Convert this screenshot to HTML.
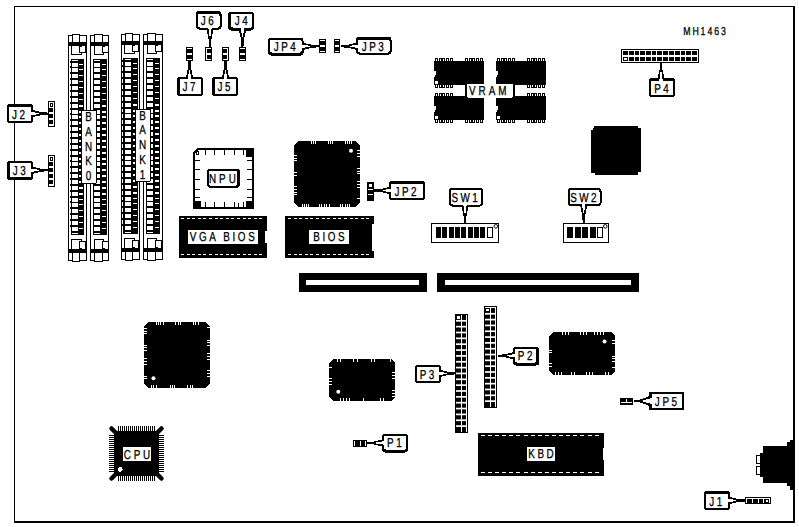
<!DOCTYPE html>
<html lang="en"><head><meta charset="utf-8"><title>MH1463 motherboard layout</title>
<style>
html,body{margin:0;padding:0;background:#fff;}
svg{display:block;font-family:"Liberation Sans",sans-serif;}
</style></head><body>
<svg width="799" height="527" viewBox="0 0 799 527" shape-rendering="crispEdges" text-rendering="geometricPrecision">
<rect x="0" y="0" width="799" height="527" fill="#fff"/>
<rect x="14" y="6" width="781" height="1" fill="#000"/>
<rect x="14" y="6" width="1" height="517" fill="#000"/>
<rect x="793" y="6" width="2" height="517" fill="#000"/>
<rect x="14" y="521" width="781" height="2" fill="#000"/>
<rect x="186" y="47" width="7" height="14" fill="#000"/>
<rect x="187" y="48" width="5" height="1" fill="#fff"/>
<rect x="187" y="53" width="5" height="2" fill="#fff"/>
<rect x="187" y="59" width="5" height="1" fill="#fff"/>
<rect x="205" y="47" width="7" height="14" fill="#000"/>
<rect x="206" y="48" width="5" height="1" fill="#fff"/>
<rect x="206" y="53" width="5" height="2" fill="#fff"/>
<rect x="206" y="59" width="5" height="1" fill="#fff"/>
<rect x="206" y="48" width="1" height="12" fill="#fff"/>
<rect x="222" y="47" width="7" height="14" fill="#000"/>
<rect x="223" y="48" width="5" height="1" fill="#fff"/>
<rect x="223" y="53" width="5" height="2" fill="#fff"/>
<rect x="223" y="59" width="5" height="1" fill="#fff"/>
<rect x="227" y="48" width="1" height="12" fill="#fff"/>
<rect x="239" y="47" width="7" height="14" fill="#000"/>
<rect x="240" y="48" width="5" height="1" fill="#fff"/>
<rect x="240" y="53" width="5" height="2" fill="#fff"/>
<rect x="240" y="59" width="5" height="1" fill="#fff"/>
<polygon points="206.3,28.5 213.7,28.5 211.5,38.85 211,46.5 209,46.5 208.5,38.85" fill="#000"/>
<rect x="196" y="11" width="25.5" height="18.5" fill="#000" rx="3" ry="3"/>
<rect x="198" y="14" width="21.5" height="13.5" fill="#fff" rx="1.5" ry="1.5"/>
<polygon points="208.1,26.5 211.9,26.5 210.4,36.64 209.6,36.64" fill="#fff"/>
<text transform="translate(208.55,25.35) scale(0.76,1)" font-size="13" text-anchor="middle" letter-spacing="3.42" fill="#000" stroke="#000" stroke-width="0.3">J6</text>
<polygon points="238.8,29.5 246.2,29.5 244,39.3 243.5,46.5 241.5,46.5 241,39.3" fill="#000"/>
<rect x="228" y="12" width="26" height="18.5" fill="#000" rx="3" ry="3"/>
<rect x="231" y="14" width="21" height="13.5" fill="#fff" rx="1.5" ry="1.5"/>
<polygon points="240.6,26.5 244.4,26.5 242.9,37.22 242.1,37.22" fill="#fff"/>
<text transform="translate(242.5,25.35) scale(0.76,1)" font-size="13" text-anchor="middle" letter-spacing="3.42" fill="#000" stroke="#000" stroke-width="0.3">J4</text>
<polygon points="185.8,78 193.2,78 191,68.2 190.5,61 188.5,61 188,68.2" fill="#000"/>
<rect x="177" y="77" width="26" height="19" fill="#000" rx="3" ry="3"/>
<rect x="180" y="79" width="21" height="15" fill="#fff" rx="1.5" ry="1.5"/>
<polygon points="187.6,80 191.4,80 189.9,70.28 189.1,70.28" fill="#fff"/>
<text transform="translate(190.3,91.1) scale(0.76,1)" font-size="13" text-anchor="middle" letter-spacing="3.42" fill="#000" stroke="#000" stroke-width="0.3">J7</text>
<polygon points="221.8,78 229.2,78 227,68.2 226.5,61 224.5,61 224,68.2" fill="#000"/>
<rect x="212" y="77" width="26" height="19" fill="#000" rx="3" ry="3"/>
<rect x="215" y="79" width="21" height="15" fill="#fff" rx="1.5" ry="1.5"/>
<polygon points="223.6,80 227.4,80 225.9,70.28 225.1,70.28" fill="#fff"/>
<text transform="translate(225.3,91.1) scale(0.76,1)" font-size="13" text-anchor="middle" letter-spacing="3.42" fill="#000" stroke="#000" stroke-width="0.3">J5</text>
<rect x="319" y="39" width="7" height="14" fill="#000"/>
<rect x="320" y="40" width="5" height="1" fill="#fff"/>
<rect x="320" y="45" width="5" height="2" fill="#fff"/>
<rect x="320" y="51" width="5" height="1" fill="#fff"/>
<rect x="334" y="39" width="6" height="14" fill="#000"/>
<rect x="335" y="40" width="4" height="1" fill="#fff"/>
<rect x="335" y="45" width="4" height="2" fill="#fff"/>
<rect x="335" y="51" width="4" height="1" fill="#fff"/>
<polygon points="302.5,42.6 302.5,50 312.025,47.8 319,47.3 319,45.3 312.025,44.8" fill="#000"/>
<rect x="268" y="37.5" width="35.5" height="18" fill="#000" rx="3" ry="3"/>
<rect x="270" y="39.5" width="31.5" height="13" fill="#fff" rx="1.5" ry="1.5"/>
<polygon points="300.5,44.4 300.5,48.2 310.01,46.7 310.01,45.9" fill="#fff"/>
<text transform="translate(286.05,50.6) scale(0.76,1)" font-size="13" text-anchor="middle" letter-spacing="3.42" fill="#000" stroke="#000" stroke-width="0.3">JP4</text>
<polygon points="357,42.6 357,50 347.75,47.8 341,47.3 341,45.3 347.75,44.8" fill="#000"/>
<rect x="356" y="36.5" width="35.5" height="18" fill="#000" rx="3" ry="3"/>
<rect x="358" y="39.5" width="31.5" height="13" fill="#fff" rx="1.5" ry="1.5"/>
<polygon points="359,44.4 359,48.2 349.7,46.7 349.7,45.9" fill="#fff"/>
<text transform="translate(374.05,50.6) scale(0.76,1)" font-size="13" text-anchor="middle" letter-spacing="3.42" fill="#000" stroke="#000" stroke-width="0.3">JP3</text>
<polygon points="32,109.9 32,117.3 41.25,115.1 48,114.6 48,112.6 41.25,112.1" fill="#000"/>
<rect x="7" y="104" width="26" height="19" fill="#000" rx="3" ry="3"/>
<rect x="9" y="107" width="22" height="14" fill="#fff" rx="1.5" ry="1.5"/>
<polygon points="30,111.7 30,115.5 39.3,114 39.3,113.2" fill="#fff"/>
<text transform="translate(19.7,118.6) scale(0.76,1)" font-size="13" text-anchor="middle" letter-spacing="3.42" fill="#000" stroke="#000" stroke-width="0.3">J2</text>
<polygon points="32,166.5 32,173.9 41.25,171.7 48,171.2 48,169.2 41.25,168.7" fill="#000"/>
<rect x="7" y="161" width="26" height="19" fill="#000" rx="3" ry="3"/>
<rect x="10" y="163" width="21" height="14" fill="#fff" rx="1.5" ry="1.5"/>
<polygon points="30,168.3 30,172.1 39.3,170.6 39.3,169.8" fill="#fff"/>
<text transform="translate(20.5,174.6) scale(0.76,1)" font-size="13" text-anchor="middle" letter-spacing="3.42" fill="#000" stroke="#000" stroke-width="0.3">J3</text>
<polygon points="657.3,79 664.7,79 662.5,69.75 662,63 660,63 659.5,69.75" fill="#000"/>
<rect x="649" y="78" width="26" height="19" fill="#000" rx="3" ry="3"/>
<rect x="651" y="81" width="22" height="14" fill="#fff" rx="1.5" ry="1.5"/>
<polygon points="659.1,82 662.9,82 661.4,71.7 660.6,71.7" fill="#fff"/>
<text transform="translate(662.8,92.6) scale(0.76,1)" font-size="13" text-anchor="middle" letter-spacing="3.42" fill="#000" stroke="#000" stroke-width="0.3">P4</text>
<polygon points="390,186.8 390,194.2 380.75,192 374,191.5 374,189.5 380.75,189" fill="#000"/>
<rect x="389" y="181" width="36" height="19" fill="#000" rx="3" ry="3"/>
<rect x="391" y="184" width="32" height="14" fill="#fff" rx="1.5" ry="1.5"/>
<polygon points="392,188.6 392,192.4 382.7,190.9 382.7,190.1" fill="#fff"/>
<text transform="translate(406.8,195.6) scale(0.76,1)" font-size="13" text-anchor="middle" letter-spacing="3.42" fill="#000" stroke="#000" stroke-width="0.3">JP2</text>
<polygon points="461.3,205.5 468.7,205.5 466.5,215.575 466,223 464,223 463.5,215.575" fill="#000"/>
<rect x="449" y="188" width="34" height="18.5" fill="#000" rx="3" ry="3"/>
<rect x="451" y="190" width="30" height="14.5" fill="#fff" rx="1.5" ry="1.5"/>
<polygon points="463.1,203.5 466.9,203.5 465.4,213.43 464.6,213.43" fill="#fff"/>
<text transform="translate(465.9,201.85) scale(0.76,1)" font-size="13" text-anchor="middle" letter-spacing="3.16" fill="#000" stroke="#000" stroke-width="0.3">SW1</text>
<polygon points="580,205 587.4,205 585.2,215.35 584.7,223 582.7,223 582.2,215.35" fill="#000"/>
<rect x="568" y="188" width="33.5" height="18" fill="#000" rx="3" ry="3"/>
<rect x="570" y="190" width="29.5" height="14" fill="#fff" rx="1.5" ry="1.5"/>
<polygon points="581.8,203 585.6,203 584.1,213.14 583.3,213.14" fill="#fff"/>
<text transform="translate(584.65,201.6) scale(0.76,1)" font-size="13" text-anchor="middle" letter-spacing="3.16" fill="#000" stroke="#000" stroke-width="0.3">SW2</text>
<polygon points="514,352.1 514,359.5 504.75,357.3 498,356.8 498,354.8 504.75,354.3" fill="#000"/>
<rect x="513" y="347" width="26.3" height="18.5" fill="#000" rx="3" ry="3"/>
<rect x="515" y="349" width="21.3" height="13.5" fill="#fff" rx="1.5" ry="1.5"/>
<polygon points="516,353.9 516,357.7 506.7,356.2 506.7,355.4" fill="#fff"/>
<text transform="translate(526.45,360.35) scale(0.76,1)" font-size="13" text-anchor="middle" letter-spacing="3.42" fill="#000" stroke="#000" stroke-width="0.3">P2</text>
<polygon points="440,369.7 440,377.1 448.7,374.9 455,374.4 455,372.4 448.7,371.9" fill="#000"/>
<rect x="415" y="365" width="26" height="18" fill="#000" rx="3" ry="3"/>
<rect x="417" y="367" width="22" height="14" fill="#fff" rx="1.5" ry="1.5"/>
<polygon points="438,371.5 438,375.3 446.88,373.8 446.88,373" fill="#fff"/>
<text transform="translate(428.3,378.6) scale(0.76,1)" font-size="13" text-anchor="middle" letter-spacing="3.42" fill="#000" stroke="#000" stroke-width="0.3">P3</text>
<polygon points="649.7,396 649.7,406 640.34,402.5 633.5,402 633.5,400 640.34,399.5" fill="#000"/>
<rect x="648.7" y="392" width="35.5" height="18" fill="#000" rx="0.5" ry="0.5"/>
<rect x="651.7" y="394" width="30.5" height="14" fill="#fff" rx="0" ry="0"/>
<polygon points="652.7,397.8 652.7,404.2 642.316,401.4 642.316,400.6" fill="#fff"/>
<text transform="translate(667.25,405.6) scale(0.76,1)" font-size="13" text-anchor="middle" letter-spacing="3.42" fill="#000" stroke="#000" stroke-width="0.3">JP5</text>
<polygon points="383,439.3 383,446.7 373.75,444.5 367,444 367,442 373.75,441.5" fill="#000"/>
<rect x="382" y="434" width="26" height="18.5" fill="#000" rx="3" ry="3"/>
<rect x="384" y="436" width="22" height="13.5" fill="#fff" rx="1.5" ry="1.5"/>
<polygon points="385,441.1 385,444.9 375.7,443.4 375.7,442.6" fill="#fff"/>
<text transform="translate(395.6,447.35) scale(0.76,1)" font-size="13" text-anchor="middle" letter-spacing="3.42" fill="#000" stroke="#000" stroke-width="0.3">P1</text>
<polygon points="729,496.8 729,504.2 738.25,502 745,501.5 745,499.5 738.25,499" fill="#000"/>
<rect x="704" y="491" width="26" height="19" fill="#000" rx="3" ry="3"/>
<rect x="706" y="494" width="22" height="14" fill="#fff" rx="1.5" ry="1.5"/>
<polygon points="727,498.6 727,502.4 736.3,500.9 736.3,500.1" fill="#fff"/>
<text transform="translate(717,505.6) scale(0.76,1)" font-size="13" text-anchor="middle" letter-spacing="3.42" fill="#000" stroke="#000" stroke-width="0.3">J1</text>
<text transform="translate(705.45,35) scale(0.76,1)" font-size="11.5" text-anchor="middle" letter-spacing="2.5" fill="#000" stroke="#000" stroke-width="0.3">MH1463</text>
<rect x="299" y="273" width="128" height="19" fill="#000"/>
<rect x="306" y="280" width="113" height="5" fill="#fff"/>
<rect x="437" y="273" width="202" height="19" fill="#000"/>
<rect x="445" y="280" width="186" height="5" fill="#fff"/>
<rect x="179" y="216" width="88" height="42" fill="#000"/>
<rect x="181" y="218" width="3" height="1" fill="#fff"/>
<rect x="181" y="254" width="3" height="1" fill="#fff"/>
<rect x="187" y="218" width="3" height="1" fill="#fff"/>
<rect x="187" y="254" width="3" height="1" fill="#fff"/>
<rect x="192" y="218" width="3" height="1" fill="#fff"/>
<rect x="192" y="254" width="3" height="1" fill="#fff"/>
<rect x="198" y="218" width="3" height="1" fill="#fff"/>
<rect x="198" y="254" width="3" height="1" fill="#fff"/>
<rect x="203" y="218" width="3" height="1" fill="#fff"/>
<rect x="203" y="254" width="3" height="1" fill="#fff"/>
<rect x="209" y="218" width="3" height="1" fill="#fff"/>
<rect x="209" y="254" width="3" height="1" fill="#fff"/>
<rect x="215" y="218" width="3" height="1" fill="#fff"/>
<rect x="215" y="254" width="3" height="1" fill="#fff"/>
<rect x="220" y="218" width="3" height="1" fill="#fff"/>
<rect x="220" y="254" width="3" height="1" fill="#fff"/>
<rect x="226" y="218" width="3" height="1" fill="#fff"/>
<rect x="226" y="254" width="3" height="1" fill="#fff"/>
<rect x="231" y="218" width="3" height="1" fill="#fff"/>
<rect x="231" y="254" width="3" height="1" fill="#fff"/>
<rect x="237" y="218" width="3" height="1" fill="#fff"/>
<rect x="237" y="254" width="3" height="1" fill="#fff"/>
<rect x="243" y="218" width="3" height="1" fill="#fff"/>
<rect x="243" y="254" width="3" height="1" fill="#fff"/>
<rect x="248" y="218" width="3" height="1" fill="#fff"/>
<rect x="248" y="254" width="3" height="1" fill="#fff"/>
<rect x="254" y="218" width="3" height="1" fill="#fff"/>
<rect x="254" y="254" width="3" height="1" fill="#fff"/>
<rect x="259" y="218" width="3" height="1" fill="#fff"/>
<rect x="259" y="254" width="3" height="1" fill="#fff"/>
<rect x="188" y="230" width="70" height="14" fill="#fff"/>
<rect x="265" y="231" width="2" height="12" fill="#fff"/>
<text transform="translate(223.6,241) scale(0.76,1)" font-size="13" text-anchor="middle" letter-spacing="3.42" fill="#000" stroke="#000" stroke-width="0.3">VGA BIOS</text>
<rect x="285" y="216" width="89" height="42" fill="#000"/>
<rect x="288" y="218" width="3" height="1" fill="#fff"/>
<rect x="288" y="254" width="3" height="1" fill="#fff"/>
<rect x="294" y="218" width="3" height="1" fill="#fff"/>
<rect x="294" y="254" width="3" height="1" fill="#fff"/>
<rect x="299" y="218" width="3" height="1" fill="#fff"/>
<rect x="299" y="254" width="3" height="1" fill="#fff"/>
<rect x="305" y="218" width="3" height="1" fill="#fff"/>
<rect x="305" y="254" width="3" height="1" fill="#fff"/>
<rect x="310" y="218" width="3" height="1" fill="#fff"/>
<rect x="310" y="254" width="3" height="1" fill="#fff"/>
<rect x="316" y="218" width="3" height="1" fill="#fff"/>
<rect x="316" y="254" width="3" height="1" fill="#fff"/>
<rect x="322" y="218" width="3" height="1" fill="#fff"/>
<rect x="322" y="254" width="3" height="1" fill="#fff"/>
<rect x="327" y="218" width="3" height="1" fill="#fff"/>
<rect x="327" y="254" width="3" height="1" fill="#fff"/>
<rect x="333" y="218" width="3" height="1" fill="#fff"/>
<rect x="333" y="254" width="3" height="1" fill="#fff"/>
<rect x="338" y="218" width="3" height="1" fill="#fff"/>
<rect x="338" y="254" width="3" height="1" fill="#fff"/>
<rect x="344" y="218" width="3" height="1" fill="#fff"/>
<rect x="344" y="254" width="3" height="1" fill="#fff"/>
<rect x="350" y="218" width="3" height="1" fill="#fff"/>
<rect x="350" y="254" width="3" height="1" fill="#fff"/>
<rect x="355" y="218" width="3" height="1" fill="#fff"/>
<rect x="355" y="254" width="3" height="1" fill="#fff"/>
<rect x="361" y="218" width="3" height="1" fill="#fff"/>
<rect x="361" y="254" width="3" height="1" fill="#fff"/>
<rect x="366" y="218" width="3" height="1" fill="#fff"/>
<rect x="366" y="254" width="3" height="1" fill="#fff"/>
<rect x="309" y="230" width="40" height="14" fill="#fff"/>
<rect x="372" y="224" width="2" height="27" fill="#fff"/>
<text transform="translate(330.3,241) scale(0.76,1)" font-size="13" text-anchor="middle" letter-spacing="3.42" fill="#000" stroke="#000" stroke-width="0.3">BIOS</text>
<rect x="478" y="433" width="126" height="43" fill="#000"/>
<rect x="481" y="435" width="4" height="1" fill="#fff"/>
<rect x="481" y="472" width="4" height="1" fill="#fff"/>
<rect x="488" y="435" width="4" height="1" fill="#fff"/>
<rect x="488" y="472" width="4" height="1" fill="#fff"/>
<rect x="495" y="435" width="4" height="1" fill="#fff"/>
<rect x="495" y="472" width="4" height="1" fill="#fff"/>
<rect x="502" y="435" width="4" height="1" fill="#fff"/>
<rect x="502" y="472" width="4" height="1" fill="#fff"/>
<rect x="509" y="435" width="4" height="1" fill="#fff"/>
<rect x="509" y="472" width="4" height="1" fill="#fff"/>
<rect x="516" y="435" width="4" height="1" fill="#fff"/>
<rect x="516" y="472" width="4" height="1" fill="#fff"/>
<rect x="524" y="435" width="4" height="1" fill="#fff"/>
<rect x="524" y="472" width="4" height="1" fill="#fff"/>
<rect x="531" y="435" width="4" height="1" fill="#fff"/>
<rect x="531" y="472" width="4" height="1" fill="#fff"/>
<rect x="538" y="435" width="4" height="1" fill="#fff"/>
<rect x="538" y="472" width="4" height="1" fill="#fff"/>
<rect x="545" y="435" width="4" height="1" fill="#fff"/>
<rect x="545" y="472" width="4" height="1" fill="#fff"/>
<rect x="552" y="435" width="4" height="1" fill="#fff"/>
<rect x="552" y="472" width="4" height="1" fill="#fff"/>
<rect x="559" y="435" width="4" height="1" fill="#fff"/>
<rect x="559" y="472" width="4" height="1" fill="#fff"/>
<rect x="566" y="435" width="4" height="1" fill="#fff"/>
<rect x="566" y="472" width="4" height="1" fill="#fff"/>
<rect x="573" y="435" width="4" height="1" fill="#fff"/>
<rect x="573" y="472" width="4" height="1" fill="#fff"/>
<rect x="580" y="435" width="4" height="1" fill="#fff"/>
<rect x="580" y="472" width="4" height="1" fill="#fff"/>
<rect x="588" y="435" width="4" height="1" fill="#fff"/>
<rect x="588" y="472" width="4" height="1" fill="#fff"/>
<rect x="595" y="435" width="4" height="1" fill="#fff"/>
<rect x="595" y="472" width="4" height="1" fill="#fff"/>
<rect x="527" y="447" width="28" height="14" fill="#fff"/>
<rect x="603" y="448" width="1" height="12" fill="#fff"/>
<text transform="translate(542.3,458) scale(0.76,1)" font-size="13" text-anchor="middle" letter-spacing="3.42" fill="#000" stroke="#000" stroke-width="0.3">KBD</text>
<rect x="68" y="35" width="1" height="226" fill="#000"/>
<rect x="86" y="35" width="1" height="226" fill="#000"/>
<rect x="68" y="35" width="19" height="1" fill="#000"/>
<rect x="68" y="260" width="19" height="1" fill="#000"/>
<rect x="72" y="34" width="1" height="9" fill="#000"/>
<rect x="79" y="34" width="1" height="9" fill="#000"/>
<rect x="72" y="34" width="8" height="1" fill="#000"/>
<rect x="73" y="35" width="6" height="1" fill="#fff"/>
<rect x="69" y="42" width="18" height="4" fill="#000"/>
<rect x="71" y="45" width="11" height="10" fill="#000"/>
<rect x="72" y="46" width="9" height="8" fill="#fff"/>
<rect x="79" y="45" width="7" height="8" fill="#000"/>
<rect x="80" y="47" width="5" height="5" fill="#fff"/>
<rect x="82" y="46" width="3" height="2" fill="#fff"/>
<rect x="72" y="253" width="1" height="9" fill="#000"/>
<rect x="79" y="253" width="1" height="9" fill="#000"/>
<rect x="72" y="261" width="8" height="1" fill="#000"/>
<rect x="73" y="260" width="6" height="1" fill="#fff"/>
<rect x="69" y="249" width="18" height="4" fill="#000"/>
<rect x="71" y="239" width="11" height="11" fill="#000"/>
<rect x="72" y="240" width="9" height="9" fill="#fff"/>
<rect x="79" y="241" width="7" height="9" fill="#000"/>
<rect x="80" y="242" width="5" height="6" fill="#fff"/>
<rect x="82" y="247" width="3" height="2" fill="#fff"/>
<rect x="71" y="59" width="13" height="176" fill="#000"/>
<rect x="72" y="60" width="6" height="1" fill="#fff"/>
<rect x="72" y="233" width="6" height="1" fill="#fff"/>
<rect x="72" y="63" width="6" height="4" fill="#fff"/>
<rect x="79" y="64" width="4" height="1" fill="#fff"/>
<rect x="70" y="61" width="1" height="2" fill="#000"/>
<rect x="72" y="68" width="6" height="4" fill="#fff"/>
<rect x="79" y="69" width="4" height="1" fill="#fff"/>
<rect x="70" y="66" width="1" height="2" fill="#000"/>
<rect x="72" y="74" width="6" height="4" fill="#fff"/>
<rect x="79" y="75" width="4" height="1" fill="#fff"/>
<rect x="70" y="72" width="1" height="2" fill="#000"/>
<rect x="72" y="80" width="6" height="4" fill="#fff"/>
<rect x="79" y="81" width="4" height="1" fill="#fff"/>
<rect x="70" y="78" width="1" height="2" fill="#000"/>
<rect x="72" y="86" width="6" height="4" fill="#fff"/>
<rect x="79" y="87" width="4" height="1" fill="#fff"/>
<rect x="70" y="84" width="1" height="2" fill="#000"/>
<rect x="72" y="92" width="6" height="4" fill="#fff"/>
<rect x="79" y="93" width="4" height="1" fill="#fff"/>
<rect x="70" y="90" width="1" height="2" fill="#000"/>
<rect x="72" y="98" width="6" height="4" fill="#fff"/>
<rect x="79" y="99" width="4" height="1" fill="#fff"/>
<rect x="70" y="96" width="1" height="2" fill="#000"/>
<rect x="72" y="104" width="6" height="4" fill="#fff"/>
<rect x="79" y="105" width="4" height="2" fill="#fff"/>
<rect x="70" y="102" width="1" height="2" fill="#000"/>
<rect x="72" y="110" width="6" height="4" fill="#fff"/>
<rect x="79" y="111" width="4" height="2" fill="#fff"/>
<rect x="70" y="108" width="1" height="2" fill="#000"/>
<rect x="72" y="115" width="6" height="4" fill="#fff"/>
<rect x="79" y="116" width="4" height="2" fill="#fff"/>
<rect x="70" y="113" width="1" height="2" fill="#000"/>
<rect x="72" y="121" width="6" height="4" fill="#fff"/>
<rect x="79" y="122" width="4" height="2" fill="#fff"/>
<rect x="70" y="119" width="1" height="2" fill="#000"/>
<rect x="72" y="127" width="6" height="4" fill="#fff"/>
<rect x="79" y="128" width="4" height="2" fill="#fff"/>
<rect x="70" y="125" width="1" height="2" fill="#000"/>
<rect x="72" y="133" width="6" height="4" fill="#fff"/>
<rect x="79" y="134" width="4" height="2" fill="#fff"/>
<rect x="70" y="131" width="1" height="2" fill="#000"/>
<rect x="72" y="139" width="6" height="4" fill="#fff"/>
<rect x="79" y="140" width="4" height="2" fill="#fff"/>
<rect x="70" y="137" width="1" height="2" fill="#000"/>
<rect x="72" y="145" width="6" height="4" fill="#fff"/>
<rect x="79" y="146" width="4" height="2" fill="#fff"/>
<rect x="70" y="143" width="1" height="2" fill="#000"/>
<rect x="72" y="151" width="6" height="4" fill="#fff"/>
<rect x="79" y="152" width="4" height="2" fill="#fff"/>
<rect x="70" y="149" width="1" height="2" fill="#000"/>
<rect x="72" y="157" width="6" height="4" fill="#fff"/>
<rect x="79" y="158" width="4" height="2" fill="#fff"/>
<rect x="70" y="155" width="1" height="2" fill="#000"/>
<rect x="72" y="162" width="6" height="4" fill="#fff"/>
<rect x="79" y="163" width="4" height="2" fill="#fff"/>
<rect x="70" y="160" width="1" height="2" fill="#000"/>
<rect x="72" y="168" width="6" height="4" fill="#fff"/>
<rect x="79" y="169" width="4" height="2" fill="#fff"/>
<rect x="70" y="166" width="1" height="2" fill="#000"/>
<rect x="72" y="174" width="6" height="4" fill="#fff"/>
<rect x="79" y="175" width="4" height="2" fill="#fff"/>
<rect x="70" y="172" width="1" height="2" fill="#000"/>
<rect x="72" y="180" width="6" height="4" fill="#fff"/>
<rect x="79" y="181" width="4" height="2" fill="#fff"/>
<rect x="70" y="178" width="1" height="2" fill="#000"/>
<rect x="72" y="186" width="6" height="4" fill="#fff"/>
<rect x="79" y="187" width="4" height="2" fill="#fff"/>
<rect x="70" y="184" width="1" height="2" fill="#000"/>
<rect x="72" y="192" width="6" height="4" fill="#fff"/>
<rect x="79" y="193" width="4" height="2" fill="#fff"/>
<rect x="70" y="190" width="1" height="2" fill="#000"/>
<rect x="72" y="198" width="6" height="4" fill="#fff"/>
<rect x="79" y="199" width="4" height="1" fill="#fff"/>
<rect x="70" y="196" width="1" height="2" fill="#000"/>
<rect x="72" y="203" width="6" height="4" fill="#fff"/>
<rect x="79" y="204" width="4" height="1" fill="#fff"/>
<rect x="70" y="201" width="1" height="2" fill="#000"/>
<rect x="72" y="209" width="6" height="4" fill="#fff"/>
<rect x="79" y="210" width="4" height="1" fill="#fff"/>
<rect x="70" y="207" width="1" height="2" fill="#000"/>
<rect x="72" y="215" width="6" height="4" fill="#fff"/>
<rect x="79" y="216" width="4" height="1" fill="#fff"/>
<rect x="70" y="213" width="1" height="2" fill="#000"/>
<rect x="72" y="221" width="6" height="4" fill="#fff"/>
<rect x="79" y="222" width="4" height="1" fill="#fff"/>
<rect x="70" y="219" width="1" height="2" fill="#000"/>
<rect x="72" y="227" width="6" height="4" fill="#fff"/>
<rect x="79" y="228" width="4" height="1" fill="#fff"/>
<rect x="70" y="225" width="1" height="2" fill="#000"/>
<rect x="90" y="35" width="1" height="226" fill="#000"/>
<rect x="108" y="35" width="1" height="226" fill="#000"/>
<rect x="90" y="35" width="19" height="1" fill="#000"/>
<rect x="90" y="260" width="19" height="1" fill="#000"/>
<rect x="94" y="34" width="1" height="9" fill="#000"/>
<rect x="102" y="34" width="1" height="9" fill="#000"/>
<rect x="94" y="34" width="9" height="1" fill="#000"/>
<rect x="95" y="35" width="7" height="1" fill="#fff"/>
<rect x="91" y="42" width="18" height="4" fill="#000"/>
<rect x="94" y="45" width="10" height="10" fill="#000"/>
<rect x="95" y="46" width="8" height="8" fill="#fff"/>
<rect x="102" y="45" width="7" height="8" fill="#000"/>
<rect x="103" y="47" width="5" height="5" fill="#fff"/>
<rect x="105" y="46" width="3" height="2" fill="#fff"/>
<rect x="94" y="253" width="1" height="9" fill="#000"/>
<rect x="102" y="253" width="1" height="9" fill="#000"/>
<rect x="94" y="261" width="9" height="1" fill="#000"/>
<rect x="95" y="260" width="7" height="1" fill="#fff"/>
<rect x="91" y="249" width="18" height="4" fill="#000"/>
<rect x="94" y="239" width="10" height="11" fill="#000"/>
<rect x="95" y="240" width="8" height="9" fill="#fff"/>
<rect x="102" y="241" width="7" height="9" fill="#000"/>
<rect x="103" y="242" width="5" height="6" fill="#fff"/>
<rect x="105" y="247" width="3" height="2" fill="#fff"/>
<rect x="93" y="59" width="14" height="176" fill="#000"/>
<rect x="94" y="60" width="6" height="1" fill="#fff"/>
<rect x="94" y="233" width="6" height="1" fill="#fff"/>
<rect x="94" y="63" width="6" height="4" fill="#fff"/>
<rect x="102" y="64" width="4" height="1" fill="#fff"/>
<rect x="94" y="68" width="6" height="4" fill="#fff"/>
<rect x="102" y="69" width="4" height="1" fill="#fff"/>
<rect x="94" y="74" width="6" height="4" fill="#fff"/>
<rect x="102" y="75" width="4" height="1" fill="#fff"/>
<rect x="94" y="80" width="6" height="4" fill="#fff"/>
<rect x="102" y="81" width="4" height="1" fill="#fff"/>
<rect x="94" y="86" width="6" height="4" fill="#fff"/>
<rect x="102" y="87" width="4" height="1" fill="#fff"/>
<rect x="94" y="92" width="6" height="4" fill="#fff"/>
<rect x="102" y="93" width="4" height="1" fill="#fff"/>
<rect x="94" y="98" width="6" height="4" fill="#fff"/>
<rect x="102" y="99" width="4" height="1" fill="#fff"/>
<rect x="94" y="104" width="6" height="4" fill="#fff"/>
<rect x="102" y="105" width="4" height="2" fill="#fff"/>
<rect x="94" y="110" width="6" height="4" fill="#fff"/>
<rect x="102" y="111" width="4" height="2" fill="#fff"/>
<rect x="94" y="115" width="6" height="4" fill="#fff"/>
<rect x="102" y="116" width="4" height="2" fill="#fff"/>
<rect x="94" y="121" width="6" height="4" fill="#fff"/>
<rect x="102" y="122" width="4" height="2" fill="#fff"/>
<rect x="94" y="127" width="6" height="4" fill="#fff"/>
<rect x="102" y="128" width="4" height="2" fill="#fff"/>
<rect x="94" y="133" width="6" height="4" fill="#fff"/>
<rect x="102" y="134" width="4" height="2" fill="#fff"/>
<rect x="94" y="139" width="6" height="4" fill="#fff"/>
<rect x="102" y="140" width="4" height="2" fill="#fff"/>
<rect x="94" y="145" width="6" height="4" fill="#fff"/>
<rect x="102" y="146" width="4" height="2" fill="#fff"/>
<rect x="94" y="151" width="6" height="4" fill="#fff"/>
<rect x="102" y="152" width="4" height="2" fill="#fff"/>
<rect x="94" y="157" width="6" height="4" fill="#fff"/>
<rect x="102" y="158" width="4" height="2" fill="#fff"/>
<rect x="94" y="162" width="6" height="4" fill="#fff"/>
<rect x="102" y="163" width="4" height="2" fill="#fff"/>
<rect x="94" y="168" width="6" height="4" fill="#fff"/>
<rect x="102" y="169" width="4" height="2" fill="#fff"/>
<rect x="94" y="174" width="6" height="4" fill="#fff"/>
<rect x="102" y="175" width="4" height="2" fill="#fff"/>
<rect x="94" y="180" width="6" height="4" fill="#fff"/>
<rect x="102" y="181" width="4" height="2" fill="#fff"/>
<rect x="94" y="186" width="6" height="4" fill="#fff"/>
<rect x="102" y="187" width="4" height="2" fill="#fff"/>
<rect x="94" y="192" width="6" height="4" fill="#fff"/>
<rect x="102" y="193" width="4" height="2" fill="#fff"/>
<rect x="94" y="198" width="6" height="4" fill="#fff"/>
<rect x="102" y="199" width="4" height="1" fill="#fff"/>
<rect x="94" y="203" width="6" height="4" fill="#fff"/>
<rect x="102" y="204" width="4" height="1" fill="#fff"/>
<rect x="94" y="209" width="6" height="4" fill="#fff"/>
<rect x="102" y="210" width="4" height="1" fill="#fff"/>
<rect x="94" y="215" width="6" height="4" fill="#fff"/>
<rect x="102" y="216" width="4" height="1" fill="#fff"/>
<rect x="94" y="221" width="6" height="4" fill="#fff"/>
<rect x="102" y="222" width="4" height="1" fill="#fff"/>
<rect x="94" y="227" width="6" height="4" fill="#fff"/>
<rect x="102" y="228" width="4" height="1" fill="#fff"/>
<rect x="121" y="34" width="1" height="226" fill="#000"/>
<rect x="139" y="34" width="1" height="226" fill="#000"/>
<rect x="121" y="34" width="19" height="1" fill="#000"/>
<rect x="121" y="259" width="19" height="1" fill="#000"/>
<rect x="125" y="33" width="1" height="9" fill="#000"/>
<rect x="132" y="33" width="1" height="9" fill="#000"/>
<rect x="125" y="33" width="8" height="1" fill="#000"/>
<rect x="126" y="34" width="6" height="1" fill="#fff"/>
<rect x="122" y="41" width="18" height="4" fill="#000"/>
<rect x="124" y="44" width="11" height="10" fill="#000"/>
<rect x="125" y="45" width="9" height="8" fill="#fff"/>
<rect x="132" y="44" width="7" height="8" fill="#000"/>
<rect x="133" y="46" width="5" height="5" fill="#fff"/>
<rect x="135" y="45" width="3" height="2" fill="#fff"/>
<rect x="125" y="252" width="1" height="9" fill="#000"/>
<rect x="132" y="252" width="1" height="9" fill="#000"/>
<rect x="125" y="260" width="8" height="1" fill="#000"/>
<rect x="126" y="259" width="6" height="1" fill="#fff"/>
<rect x="122" y="248" width="18" height="4" fill="#000"/>
<rect x="124" y="238" width="11" height="11" fill="#000"/>
<rect x="125" y="239" width="9" height="9" fill="#fff"/>
<rect x="132" y="240" width="7" height="9" fill="#000"/>
<rect x="133" y="241" width="5" height="6" fill="#fff"/>
<rect x="135" y="246" width="3" height="2" fill="#fff"/>
<rect x="123" y="58" width="15" height="176" fill="#000"/>
<rect x="125" y="59" width="6" height="1" fill="#fff"/>
<rect x="125" y="232" width="6" height="1" fill="#fff"/>
<rect x="125" y="62" width="6" height="4" fill="#fff"/>
<rect x="133" y="63" width="4" height="1" fill="#fff"/>
<rect x="122" y="60" width="1" height="2" fill="#000"/>
<rect x="125" y="67" width="6" height="4" fill="#fff"/>
<rect x="133" y="68" width="4" height="1" fill="#fff"/>
<rect x="122" y="65" width="1" height="2" fill="#000"/>
<rect x="125" y="73" width="6" height="4" fill="#fff"/>
<rect x="133" y="74" width="4" height="1" fill="#fff"/>
<rect x="122" y="71" width="1" height="2" fill="#000"/>
<rect x="125" y="79" width="6" height="4" fill="#fff"/>
<rect x="133" y="80" width="4" height="1" fill="#fff"/>
<rect x="122" y="77" width="1" height="2" fill="#000"/>
<rect x="125" y="85" width="6" height="4" fill="#fff"/>
<rect x="133" y="86" width="4" height="1" fill="#fff"/>
<rect x="122" y="83" width="1" height="2" fill="#000"/>
<rect x="125" y="91" width="6" height="4" fill="#fff"/>
<rect x="133" y="92" width="4" height="1" fill="#fff"/>
<rect x="122" y="89" width="1" height="2" fill="#000"/>
<rect x="125" y="97" width="6" height="4" fill="#fff"/>
<rect x="133" y="98" width="4" height="1" fill="#fff"/>
<rect x="122" y="95" width="1" height="2" fill="#000"/>
<rect x="125" y="103" width="6" height="4" fill="#fff"/>
<rect x="133" y="104" width="4" height="2" fill="#fff"/>
<rect x="122" y="101" width="1" height="2" fill="#000"/>
<rect x="125" y="109" width="6" height="4" fill="#fff"/>
<rect x="133" y="110" width="4" height="2" fill="#fff"/>
<rect x="122" y="107" width="1" height="2" fill="#000"/>
<rect x="125" y="114" width="6" height="4" fill="#fff"/>
<rect x="133" y="115" width="4" height="2" fill="#fff"/>
<rect x="122" y="112" width="1" height="2" fill="#000"/>
<rect x="125" y="120" width="6" height="4" fill="#fff"/>
<rect x="133" y="121" width="4" height="2" fill="#fff"/>
<rect x="122" y="118" width="1" height="2" fill="#000"/>
<rect x="125" y="126" width="6" height="4" fill="#fff"/>
<rect x="133" y="127" width="4" height="2" fill="#fff"/>
<rect x="122" y="124" width="1" height="2" fill="#000"/>
<rect x="125" y="132" width="6" height="4" fill="#fff"/>
<rect x="133" y="133" width="4" height="2" fill="#fff"/>
<rect x="122" y="130" width="1" height="2" fill="#000"/>
<rect x="125" y="138" width="6" height="4" fill="#fff"/>
<rect x="133" y="139" width="4" height="2" fill="#fff"/>
<rect x="122" y="136" width="1" height="2" fill="#000"/>
<rect x="125" y="144" width="6" height="4" fill="#fff"/>
<rect x="133" y="145" width="4" height="2" fill="#fff"/>
<rect x="122" y="142" width="1" height="2" fill="#000"/>
<rect x="125" y="150" width="6" height="4" fill="#fff"/>
<rect x="133" y="151" width="4" height="2" fill="#fff"/>
<rect x="122" y="148" width="1" height="2" fill="#000"/>
<rect x="125" y="156" width="6" height="4" fill="#fff"/>
<rect x="133" y="157" width="4" height="2" fill="#fff"/>
<rect x="122" y="154" width="1" height="2" fill="#000"/>
<rect x="125" y="161" width="6" height="4" fill="#fff"/>
<rect x="133" y="162" width="4" height="2" fill="#fff"/>
<rect x="122" y="159" width="1" height="2" fill="#000"/>
<rect x="125" y="167" width="6" height="4" fill="#fff"/>
<rect x="133" y="168" width="4" height="2" fill="#fff"/>
<rect x="122" y="165" width="1" height="2" fill="#000"/>
<rect x="125" y="173" width="6" height="4" fill="#fff"/>
<rect x="133" y="174" width="4" height="2" fill="#fff"/>
<rect x="122" y="171" width="1" height="2" fill="#000"/>
<rect x="125" y="179" width="6" height="4" fill="#fff"/>
<rect x="133" y="180" width="4" height="2" fill="#fff"/>
<rect x="122" y="177" width="1" height="2" fill="#000"/>
<rect x="125" y="185" width="6" height="4" fill="#fff"/>
<rect x="133" y="186" width="4" height="2" fill="#fff"/>
<rect x="122" y="183" width="1" height="2" fill="#000"/>
<rect x="125" y="191" width="6" height="4" fill="#fff"/>
<rect x="133" y="192" width="4" height="2" fill="#fff"/>
<rect x="122" y="189" width="1" height="2" fill="#000"/>
<rect x="125" y="197" width="6" height="4" fill="#fff"/>
<rect x="133" y="198" width="4" height="1" fill="#fff"/>
<rect x="122" y="195" width="1" height="2" fill="#000"/>
<rect x="125" y="202" width="6" height="4" fill="#fff"/>
<rect x="133" y="203" width="4" height="1" fill="#fff"/>
<rect x="122" y="200" width="1" height="2" fill="#000"/>
<rect x="125" y="208" width="6" height="4" fill="#fff"/>
<rect x="133" y="209" width="4" height="1" fill="#fff"/>
<rect x="122" y="206" width="1" height="2" fill="#000"/>
<rect x="125" y="214" width="6" height="4" fill="#fff"/>
<rect x="133" y="215" width="4" height="1" fill="#fff"/>
<rect x="122" y="212" width="1" height="2" fill="#000"/>
<rect x="125" y="220" width="6" height="4" fill="#fff"/>
<rect x="133" y="221" width="4" height="1" fill="#fff"/>
<rect x="122" y="218" width="1" height="2" fill="#000"/>
<rect x="125" y="226" width="6" height="4" fill="#fff"/>
<rect x="133" y="227" width="4" height="1" fill="#fff"/>
<rect x="122" y="224" width="1" height="2" fill="#000"/>
<rect x="143" y="34" width="1" height="226" fill="#000"/>
<rect x="162" y="34" width="1" height="226" fill="#000"/>
<rect x="143" y="34" width="20" height="1" fill="#000"/>
<rect x="143" y="259" width="20" height="1" fill="#000"/>
<rect x="147" y="33" width="1" height="9" fill="#000"/>
<rect x="155" y="33" width="1" height="9" fill="#000"/>
<rect x="147" y="33" width="9" height="1" fill="#000"/>
<rect x="148" y="34" width="7" height="1" fill="#fff"/>
<rect x="144" y="41" width="19" height="4" fill="#000"/>
<rect x="147" y="44" width="10" height="10" fill="#000"/>
<rect x="148" y="45" width="8" height="8" fill="#fff"/>
<rect x="155" y="44" width="7" height="8" fill="#000"/>
<rect x="156" y="46" width="5" height="5" fill="#fff"/>
<rect x="158" y="45" width="3" height="2" fill="#fff"/>
<rect x="147" y="252" width="1" height="9" fill="#000"/>
<rect x="155" y="252" width="1" height="9" fill="#000"/>
<rect x="147" y="260" width="9" height="1" fill="#000"/>
<rect x="148" y="259" width="7" height="1" fill="#fff"/>
<rect x="144" y="248" width="19" height="4" fill="#000"/>
<rect x="147" y="238" width="10" height="11" fill="#000"/>
<rect x="148" y="239" width="8" height="9" fill="#fff"/>
<rect x="155" y="240" width="7" height="9" fill="#000"/>
<rect x="156" y="241" width="5" height="6" fill="#fff"/>
<rect x="158" y="246" width="3" height="2" fill="#fff"/>
<rect x="146" y="58" width="14" height="176" fill="#000"/>
<rect x="147" y="59" width="6" height="1" fill="#fff"/>
<rect x="147" y="232" width="6" height="1" fill="#fff"/>
<rect x="147" y="62" width="6" height="4" fill="#fff"/>
<rect x="155" y="63" width="4" height="1" fill="#fff"/>
<rect x="147" y="67" width="6" height="4" fill="#fff"/>
<rect x="155" y="68" width="4" height="1" fill="#fff"/>
<rect x="147" y="73" width="6" height="4" fill="#fff"/>
<rect x="155" y="74" width="4" height="1" fill="#fff"/>
<rect x="147" y="79" width="6" height="4" fill="#fff"/>
<rect x="155" y="80" width="4" height="1" fill="#fff"/>
<rect x="147" y="85" width="6" height="4" fill="#fff"/>
<rect x="155" y="86" width="4" height="1" fill="#fff"/>
<rect x="147" y="91" width="6" height="4" fill="#fff"/>
<rect x="155" y="92" width="4" height="1" fill="#fff"/>
<rect x="147" y="97" width="6" height="4" fill="#fff"/>
<rect x="155" y="98" width="4" height="1" fill="#fff"/>
<rect x="147" y="103" width="6" height="4" fill="#fff"/>
<rect x="155" y="104" width="4" height="2" fill="#fff"/>
<rect x="147" y="109" width="6" height="4" fill="#fff"/>
<rect x="155" y="110" width="4" height="2" fill="#fff"/>
<rect x="147" y="114" width="6" height="4" fill="#fff"/>
<rect x="155" y="115" width="4" height="2" fill="#fff"/>
<rect x="147" y="120" width="6" height="4" fill="#fff"/>
<rect x="155" y="121" width="4" height="2" fill="#fff"/>
<rect x="147" y="126" width="6" height="4" fill="#fff"/>
<rect x="155" y="127" width="4" height="2" fill="#fff"/>
<rect x="147" y="132" width="6" height="4" fill="#fff"/>
<rect x="155" y="133" width="4" height="2" fill="#fff"/>
<rect x="147" y="138" width="6" height="4" fill="#fff"/>
<rect x="155" y="139" width="4" height="2" fill="#fff"/>
<rect x="147" y="144" width="6" height="4" fill="#fff"/>
<rect x="155" y="145" width="4" height="2" fill="#fff"/>
<rect x="147" y="150" width="6" height="4" fill="#fff"/>
<rect x="155" y="151" width="4" height="2" fill="#fff"/>
<rect x="147" y="156" width="6" height="4" fill="#fff"/>
<rect x="155" y="157" width="4" height="2" fill="#fff"/>
<rect x="147" y="161" width="6" height="4" fill="#fff"/>
<rect x="155" y="162" width="4" height="2" fill="#fff"/>
<rect x="147" y="167" width="6" height="4" fill="#fff"/>
<rect x="155" y="168" width="4" height="2" fill="#fff"/>
<rect x="147" y="173" width="6" height="4" fill="#fff"/>
<rect x="155" y="174" width="4" height="2" fill="#fff"/>
<rect x="147" y="179" width="6" height="4" fill="#fff"/>
<rect x="155" y="180" width="4" height="2" fill="#fff"/>
<rect x="147" y="185" width="6" height="4" fill="#fff"/>
<rect x="155" y="186" width="4" height="2" fill="#fff"/>
<rect x="147" y="191" width="6" height="4" fill="#fff"/>
<rect x="155" y="192" width="4" height="2" fill="#fff"/>
<rect x="147" y="197" width="6" height="4" fill="#fff"/>
<rect x="155" y="198" width="4" height="1" fill="#fff"/>
<rect x="147" y="202" width="6" height="4" fill="#fff"/>
<rect x="155" y="203" width="4" height="1" fill="#fff"/>
<rect x="147" y="208" width="6" height="4" fill="#fff"/>
<rect x="155" y="209" width="4" height="1" fill="#fff"/>
<rect x="147" y="214" width="6" height="4" fill="#fff"/>
<rect x="155" y="215" width="4" height="1" fill="#fff"/>
<rect x="147" y="220" width="6" height="4" fill="#fff"/>
<rect x="155" y="221" width="4" height="1" fill="#fff"/>
<rect x="147" y="226" width="6" height="4" fill="#fff"/>
<rect x="155" y="227" width="4" height="1" fill="#fff"/>
<rect x="81" y="110" width="16" height="74" fill="#000" rx="2" ry="2"/>
<rect x="82" y="111" width="14" height="72" fill="#fff" rx="1.5" ry="1.5"/>
<text transform="translate(88.5,121) scale(0.76,1)" font-size="13" text-anchor="middle" letter-spacing="0" fill="#000" stroke="#000" stroke-width="0.3">B</text>
<text transform="translate(88.5,135.8) scale(0.76,1)" font-size="13" text-anchor="middle" letter-spacing="0" fill="#000" stroke="#000" stroke-width="0.3">A</text>
<text transform="translate(88.5,150.6) scale(0.76,1)" font-size="13" text-anchor="middle" letter-spacing="0" fill="#000" stroke="#000" stroke-width="0.3">N</text>
<text transform="translate(88.5,165.4) scale(0.76,1)" font-size="13" text-anchor="middle" letter-spacing="0" fill="#000" stroke="#000" stroke-width="0.3">K</text>
<text transform="translate(88.5,180.2) scale(0.76,1)" font-size="13" text-anchor="middle" letter-spacing="0" fill="#000" stroke="#000" stroke-width="0.3">0</text>
<rect x="135" y="109" width="16" height="73" fill="#000" rx="2" ry="2"/>
<rect x="136" y="110" width="14" height="71" fill="#fff" rx="1.5" ry="1.5"/>
<text transform="translate(142.5,119.5) scale(0.76,1)" font-size="13" text-anchor="middle" letter-spacing="0" fill="#000" stroke="#000" stroke-width="0.3">B</text>
<text transform="translate(142.5,134.3) scale(0.76,1)" font-size="13" text-anchor="middle" letter-spacing="0" fill="#000" stroke="#000" stroke-width="0.3">A</text>
<text transform="translate(142.5,149.1) scale(0.76,1)" font-size="13" text-anchor="middle" letter-spacing="0" fill="#000" stroke="#000" stroke-width="0.3">N</text>
<text transform="translate(142.5,163.9) scale(0.76,1)" font-size="13" text-anchor="middle" letter-spacing="0" fill="#000" stroke="#000" stroke-width="0.3">K</text>
<text transform="translate(142.5,178.7) scale(0.76,1)" font-size="13" text-anchor="middle" letter-spacing="0" fill="#000" stroke="#000" stroke-width="0.3">1</text>
<rect x="48" y="101" width="7" height="26" fill="#000"/>
<rect x="49" y="102" width="5" height="24" fill="#fff"/>
<rect x="50" y="103" width="3" height="4" fill="#000"/>
<rect x="51" y="104" width="1" height="2" fill="#fff"/>
<rect x="49" y="108" width="4" height="4" fill="#000"/>
<rect x="49" y="114" width="4" height="4" fill="#000"/>
<rect x="49" y="120" width="4" height="4" fill="#000"/>
<rect x="48" y="155" width="7" height="32" fill="#000"/>
<rect x="49" y="156" width="5" height="30" fill="#fff"/>
<rect x="50" y="157" width="3" height="4" fill="#000"/>
<rect x="51" y="158" width="1" height="2" fill="#fff"/>
<rect x="49" y="162" width="4" height="4" fill="#000"/>
<rect x="49" y="168" width="4" height="4" fill="#000"/>
<rect x="49" y="174" width="4" height="4" fill="#000"/>
<rect x="49" y="180" width="4" height="4" fill="#000"/>
<rect x="434" y="61" width="50" height="24" fill="#000"/>
<rect x="435" y="58" width="3" height="3" fill="#000"/>
<rect x="436" y="59" width="1" height="2" fill="#fff"/>
<rect x="435" y="85" width="3" height="3" fill="#000"/>
<rect x="436" y="85" width="1" height="2" fill="#fff"/>
<rect x="439" y="58" width="3" height="3" fill="#000"/>
<rect x="440" y="59" width="1" height="2" fill="#fff"/>
<rect x="439" y="85" width="3" height="3" fill="#000"/>
<rect x="440" y="85" width="1" height="2" fill="#fff"/>
<rect x="442" y="58" width="3" height="3" fill="#000"/>
<rect x="443" y="59" width="1" height="2" fill="#fff"/>
<rect x="442" y="85" width="3" height="3" fill="#000"/>
<rect x="443" y="85" width="1" height="2" fill="#fff"/>
<rect x="446" y="58" width="3" height="3" fill="#000"/>
<rect x="447" y="59" width="1" height="2" fill="#fff"/>
<rect x="446" y="85" width="3" height="3" fill="#000"/>
<rect x="447" y="85" width="1" height="2" fill="#fff"/>
<rect x="450" y="58" width="3" height="3" fill="#000"/>
<rect x="451" y="59" width="1" height="2" fill="#fff"/>
<rect x="450" y="85" width="3" height="3" fill="#000"/>
<rect x="451" y="85" width="1" height="2" fill="#fff"/>
<rect x="465" y="58" width="3" height="3" fill="#000"/>
<rect x="466" y="59" width="1" height="2" fill="#fff"/>
<rect x="465" y="85" width="3" height="3" fill="#000"/>
<rect x="466" y="85" width="1" height="2" fill="#fff"/>
<rect x="469" y="58" width="3" height="3" fill="#000"/>
<rect x="470" y="59" width="1" height="2" fill="#fff"/>
<rect x="469" y="85" width="3" height="3" fill="#000"/>
<rect x="470" y="85" width="1" height="2" fill="#fff"/>
<rect x="472" y="58" width="3" height="3" fill="#000"/>
<rect x="473" y="59" width="1" height="2" fill="#fff"/>
<rect x="472" y="85" width="3" height="3" fill="#000"/>
<rect x="473" y="85" width="1" height="2" fill="#fff"/>
<rect x="476" y="58" width="3" height="3" fill="#000"/>
<rect x="477" y="59" width="1" height="2" fill="#fff"/>
<rect x="476" y="85" width="3" height="3" fill="#000"/>
<rect x="477" y="85" width="1" height="2" fill="#fff"/>
<rect x="480" y="58" width="3" height="3" fill="#000"/>
<rect x="481" y="59" width="1" height="2" fill="#fff"/>
<rect x="480" y="85" width="3" height="3" fill="#000"/>
<rect x="481" y="85" width="1" height="2" fill="#fff"/>
<polygon points="434,71 436,71 436,74 435,77 434,77" fill="#fff"/>
<rect x="435" y="81" width="3" height="3" fill="#fff"/>
<rect x="496" y="61" width="50" height="24" fill="#000"/>
<rect x="497" y="58" width="3" height="3" fill="#000"/>
<rect x="498" y="59" width="1" height="2" fill="#fff"/>
<rect x="497" y="85" width="3" height="3" fill="#000"/>
<rect x="498" y="85" width="1" height="2" fill="#fff"/>
<rect x="501" y="58" width="3" height="3" fill="#000"/>
<rect x="502" y="59" width="1" height="2" fill="#fff"/>
<rect x="501" y="85" width="3" height="3" fill="#000"/>
<rect x="502" y="85" width="1" height="2" fill="#fff"/>
<rect x="504" y="58" width="3" height="3" fill="#000"/>
<rect x="505" y="59" width="1" height="2" fill="#fff"/>
<rect x="504" y="85" width="3" height="3" fill="#000"/>
<rect x="505" y="85" width="1" height="2" fill="#fff"/>
<rect x="508" y="58" width="3" height="3" fill="#000"/>
<rect x="509" y="59" width="1" height="2" fill="#fff"/>
<rect x="508" y="85" width="3" height="3" fill="#000"/>
<rect x="509" y="85" width="1" height="2" fill="#fff"/>
<rect x="512" y="58" width="3" height="3" fill="#000"/>
<rect x="513" y="59" width="1" height="2" fill="#fff"/>
<rect x="512" y="85" width="3" height="3" fill="#000"/>
<rect x="513" y="85" width="1" height="2" fill="#fff"/>
<rect x="527" y="58" width="3" height="3" fill="#000"/>
<rect x="528" y="59" width="1" height="2" fill="#fff"/>
<rect x="527" y="85" width="3" height="3" fill="#000"/>
<rect x="528" y="85" width="1" height="2" fill="#fff"/>
<rect x="531" y="58" width="3" height="3" fill="#000"/>
<rect x="532" y="59" width="1" height="2" fill="#fff"/>
<rect x="531" y="85" width="3" height="3" fill="#000"/>
<rect x="532" y="85" width="1" height="2" fill="#fff"/>
<rect x="534" y="58" width="3" height="3" fill="#000"/>
<rect x="535" y="59" width="1" height="2" fill="#fff"/>
<rect x="534" y="85" width="3" height="3" fill="#000"/>
<rect x="535" y="85" width="1" height="2" fill="#fff"/>
<rect x="538" y="58" width="3" height="3" fill="#000"/>
<rect x="539" y="59" width="1" height="2" fill="#fff"/>
<rect x="538" y="85" width="3" height="3" fill="#000"/>
<rect x="539" y="85" width="1" height="2" fill="#fff"/>
<rect x="542" y="58" width="3" height="3" fill="#000"/>
<rect x="543" y="59" width="1" height="2" fill="#fff"/>
<rect x="542" y="85" width="3" height="3" fill="#000"/>
<rect x="543" y="85" width="1" height="2" fill="#fff"/>
<polygon points="496,71 498,71 498,74 497,77 496,77" fill="#fff"/>
<rect x="434" y="96" width="50" height="24" fill="#000"/>
<rect x="435" y="93" width="3" height="3" fill="#000"/>
<rect x="436" y="94" width="1" height="2" fill="#fff"/>
<rect x="435" y="120" width="3" height="3" fill="#000"/>
<rect x="436" y="120" width="1" height="2" fill="#fff"/>
<rect x="439" y="93" width="3" height="3" fill="#000"/>
<rect x="440" y="94" width="1" height="2" fill="#fff"/>
<rect x="439" y="120" width="3" height="3" fill="#000"/>
<rect x="440" y="120" width="1" height="2" fill="#fff"/>
<rect x="442" y="93" width="3" height="3" fill="#000"/>
<rect x="443" y="94" width="1" height="2" fill="#fff"/>
<rect x="442" y="120" width="3" height="3" fill="#000"/>
<rect x="443" y="120" width="1" height="2" fill="#fff"/>
<rect x="446" y="93" width="3" height="3" fill="#000"/>
<rect x="447" y="94" width="1" height="2" fill="#fff"/>
<rect x="446" y="120" width="3" height="3" fill="#000"/>
<rect x="447" y="120" width="1" height="2" fill="#fff"/>
<rect x="450" y="93" width="3" height="3" fill="#000"/>
<rect x="451" y="94" width="1" height="2" fill="#fff"/>
<rect x="450" y="120" width="3" height="3" fill="#000"/>
<rect x="451" y="120" width="1" height="2" fill="#fff"/>
<rect x="465" y="93" width="3" height="3" fill="#000"/>
<rect x="466" y="94" width="1" height="2" fill="#fff"/>
<rect x="465" y="120" width="3" height="3" fill="#000"/>
<rect x="466" y="120" width="1" height="2" fill="#fff"/>
<rect x="469" y="93" width="3" height="3" fill="#000"/>
<rect x="470" y="94" width="1" height="2" fill="#fff"/>
<rect x="469" y="120" width="3" height="3" fill="#000"/>
<rect x="470" y="120" width="1" height="2" fill="#fff"/>
<rect x="472" y="93" width="3" height="3" fill="#000"/>
<rect x="473" y="94" width="1" height="2" fill="#fff"/>
<rect x="472" y="120" width="3" height="3" fill="#000"/>
<rect x="473" y="120" width="1" height="2" fill="#fff"/>
<rect x="476" y="93" width="3" height="3" fill="#000"/>
<rect x="477" y="94" width="1" height="2" fill="#fff"/>
<rect x="476" y="120" width="3" height="3" fill="#000"/>
<rect x="477" y="120" width="1" height="2" fill="#fff"/>
<rect x="480" y="93" width="3" height="3" fill="#000"/>
<rect x="481" y="94" width="1" height="2" fill="#fff"/>
<rect x="480" y="120" width="3" height="3" fill="#000"/>
<rect x="481" y="120" width="1" height="2" fill="#fff"/>
<polygon points="434,106 436,106 436,109 435,112 434,112" fill="#fff"/>
<circle cx="436.5" cy="117.5" r="1.5" fill="#fff"/>
<rect x="496" y="96" width="50" height="24" fill="#000"/>
<rect x="497" y="93" width="3" height="3" fill="#000"/>
<rect x="498" y="94" width="1" height="2" fill="#fff"/>
<rect x="497" y="120" width="3" height="3" fill="#000"/>
<rect x="498" y="120" width="1" height="2" fill="#fff"/>
<rect x="501" y="93" width="3" height="3" fill="#000"/>
<rect x="502" y="94" width="1" height="2" fill="#fff"/>
<rect x="501" y="120" width="3" height="3" fill="#000"/>
<rect x="502" y="120" width="1" height="2" fill="#fff"/>
<rect x="504" y="93" width="3" height="3" fill="#000"/>
<rect x="505" y="94" width="1" height="2" fill="#fff"/>
<rect x="504" y="120" width="3" height="3" fill="#000"/>
<rect x="505" y="120" width="1" height="2" fill="#fff"/>
<rect x="508" y="93" width="3" height="3" fill="#000"/>
<rect x="509" y="94" width="1" height="2" fill="#fff"/>
<rect x="508" y="120" width="3" height="3" fill="#000"/>
<rect x="509" y="120" width="1" height="2" fill="#fff"/>
<rect x="512" y="93" width="3" height="3" fill="#000"/>
<rect x="513" y="94" width="1" height="2" fill="#fff"/>
<rect x="512" y="120" width="3" height="3" fill="#000"/>
<rect x="513" y="120" width="1" height="2" fill="#fff"/>
<rect x="527" y="93" width="3" height="3" fill="#000"/>
<rect x="528" y="94" width="1" height="2" fill="#fff"/>
<rect x="527" y="120" width="3" height="3" fill="#000"/>
<rect x="528" y="120" width="1" height="2" fill="#fff"/>
<rect x="531" y="93" width="3" height="3" fill="#000"/>
<rect x="532" y="94" width="1" height="2" fill="#fff"/>
<rect x="531" y="120" width="3" height="3" fill="#000"/>
<rect x="532" y="120" width="1" height="2" fill="#fff"/>
<rect x="534" y="93" width="3" height="3" fill="#000"/>
<rect x="535" y="94" width="1" height="2" fill="#fff"/>
<rect x="534" y="120" width="3" height="3" fill="#000"/>
<rect x="535" y="120" width="1" height="2" fill="#fff"/>
<rect x="538" y="93" width="3" height="3" fill="#000"/>
<rect x="539" y="94" width="1" height="2" fill="#fff"/>
<rect x="538" y="120" width="3" height="3" fill="#000"/>
<rect x="539" y="120" width="1" height="2" fill="#fff"/>
<rect x="542" y="93" width="3" height="3" fill="#000"/>
<rect x="543" y="94" width="1" height="2" fill="#fff"/>
<rect x="542" y="120" width="3" height="3" fill="#000"/>
<rect x="543" y="120" width="1" height="2" fill="#fff"/>
<polygon points="496,106 498,106 498,109 497,112 496,112" fill="#fff"/>
<circle cx="498.5" cy="117.5" r="1.5" fill="#fff"/>
<rect x="465" y="84" width="50" height="14" fill="#000"/>
<rect x="467" y="84" width="46" height="14" fill="#fff"/>
<rect x="465" y="97" width="3" height="1" fill="#000"/>
<rect x="512" y="97" width="3" height="1" fill="#000"/>
<text transform="translate(489.3,95) scale(0.76,1)" font-size="13" text-anchor="middle" letter-spacing="3.95" fill="#000" stroke="#000" stroke-width="0.3">VRAM</text>
<rect x="621" y="49" width="78" height="14" fill="#000"/>
<rect x="622" y="50" width="76" height="12" fill="#fff"/>
<rect x="623" y="51" width="74" height="4" fill="#000"/>
<rect x="623" y="57" width="74" height="4" fill="#000"/>
<rect x="628" y="51" width="1" height="10" fill="#fff"/>
<rect x="634" y="51" width="1" height="10" fill="#fff"/>
<rect x="639" y="51" width="1" height="10" fill="#fff"/>
<rect x="645" y="51" width="1" height="10" fill="#fff"/>
<rect x="651" y="51" width="1" height="10" fill="#fff"/>
<rect x="656" y="51" width="1" height="10" fill="#fff"/>
<rect x="662" y="51" width="1" height="10" fill="#fff"/>
<rect x="668" y="51" width="1" height="10" fill="#fff"/>
<rect x="674" y="51" width="1" height="10" fill="#fff"/>
<rect x="680" y="51" width="1" height="10" fill="#fff"/>
<rect x="685" y="51" width="1" height="10" fill="#fff"/>
<rect x="691" y="51" width="1" height="10" fill="#fff"/>
<rect x="624" y="58" width="3" height="2" fill="#fff"/>
<polygon points="197,148 254,148 254,209 193,209 193,152" fill="#000"/>
<polygon points="198,150 252,150 252,207 195,207 195,153" fill="#fff"/>
<rect x="246" y="150" width="6" height="7" fill="#000"/>
<rect x="195" y="201" width="6" height="6" fill="#000"/>
<rect x="246" y="201" width="6" height="6" fill="#000"/>
<rect x="205" y="150" width="1" height="5" fill="#000"/>
<rect x="205" y="202" width="1" height="5" fill="#000"/>
<rect x="214" y="150" width="1" height="5" fill="#000"/>
<rect x="214" y="202" width="1" height="5" fill="#000"/>
<rect x="224" y="150" width="1" height="5" fill="#000"/>
<rect x="224" y="202" width="1" height="5" fill="#000"/>
<rect x="234" y="150" width="1" height="5" fill="#000"/>
<rect x="234" y="202" width="1" height="5" fill="#000"/>
<rect x="243" y="150" width="1" height="5" fill="#000"/>
<rect x="243" y="202" width="1" height="5" fill="#000"/>
<rect x="238" y="203" width="1" height="4" fill="#000"/>
<rect x="195" y="160" width="5" height="1" fill="#000"/>
<rect x="247" y="160" width="5" height="1" fill="#000"/>
<rect x="195" y="169" width="5" height="1" fill="#000"/>
<rect x="247" y="169" width="5" height="1" fill="#000"/>
<rect x="195" y="179" width="5" height="1" fill="#000"/>
<rect x="247" y="179" width="5" height="1" fill="#000"/>
<rect x="195" y="189" width="5" height="1" fill="#000"/>
<rect x="247" y="189" width="5" height="1" fill="#000"/>
<rect x="195" y="197" width="5" height="1" fill="#000"/>
<rect x="247" y="197" width="5" height="1" fill="#000"/>
<circle cx="197.5" cy="153" r="1.5" fill="#fff" stroke="#000" stroke-width="1"/>
<rect x="207" y="168.5" width="33" height="19.5" fill="#000" rx="4" ry="4"/>
<rect x="209" y="170.5" width="28" height="15.5" fill="#fff" rx="2.5" ry="2.5"/>
<text transform="translate(223.9,182.85) scale(0.76,1)" font-size="13" text-anchor="middle" letter-spacing="3.95" fill="#000" stroke="#000" stroke-width="0.3">NPU</text>
<polygon points="299,141 355,141 358,143 360,146 360,202 358,205 355,207 299,207 296,205 294,202 294,146 296,143" fill="#000"/>
<rect x="311" y="141" width="1" height="3" fill="#fff"/>
<rect x="313" y="141" width="1" height="3" fill="#fff"/>
<rect x="315" y="141" width="1" height="3" fill="#fff"/>
<rect x="328" y="141" width="1" height="3" fill="#fff"/>
<rect x="330" y="141" width="1" height="3" fill="#fff"/>
<rect x="332" y="141" width="1" height="3" fill="#fff"/>
<rect x="345" y="141" width="1" height="3" fill="#fff"/>
<rect x="347" y="141" width="1" height="3" fill="#fff"/>
<rect x="349" y="141" width="1" height="3" fill="#fff"/>
<rect x="351" y="141" width="1" height="3" fill="#fff"/>
<rect x="302" y="204" width="1" height="3" fill="#fff"/>
<rect x="304" y="204" width="1" height="3" fill="#fff"/>
<rect x="306" y="204" width="1" height="3" fill="#fff"/>
<rect x="308" y="204" width="1" height="3" fill="#fff"/>
<rect x="319" y="204" width="1" height="3" fill="#fff"/>
<rect x="321" y="204" width="1" height="3" fill="#fff"/>
<rect x="324" y="204" width="1" height="3" fill="#fff"/>
<rect x="326" y="204" width="1" height="3" fill="#fff"/>
<rect x="329" y="204" width="1" height="3" fill="#fff"/>
<rect x="340" y="204" width="1" height="3" fill="#fff"/>
<rect x="342" y="204" width="1" height="3" fill="#fff"/>
<rect x="345" y="204" width="1" height="3" fill="#fff"/>
<rect x="347" y="204" width="1" height="3" fill="#fff"/>
<rect x="349" y="204" width="1" height="3" fill="#fff"/>
<rect x="294" y="155" width="3" height="1" fill="#fff"/>
<rect x="294" y="158" width="3" height="1" fill="#fff"/>
<rect x="294" y="160" width="3" height="1" fill="#fff"/>
<rect x="294" y="172" width="3" height="1" fill="#fff"/>
<rect x="294" y="175" width="3" height="1" fill="#fff"/>
<rect x="294" y="186" width="3" height="1" fill="#fff"/>
<rect x="294" y="189" width="3" height="1" fill="#fff"/>
<rect x="294" y="192" width="3" height="1" fill="#fff"/>
<rect x="294" y="194" width="3" height="1" fill="#fff"/>
<rect x="357" y="150" width="3" height="1" fill="#fff"/>
<rect x="357" y="153" width="3" height="1" fill="#fff"/>
<rect x="357" y="156" width="3" height="1" fill="#fff"/>
<rect x="357" y="168" width="3" height="1" fill="#fff"/>
<rect x="357" y="171" width="3" height="1" fill="#fff"/>
<rect x="357" y="173" width="3" height="1" fill="#fff"/>
<rect x="357" y="181" width="3" height="1" fill="#fff"/>
<rect x="357" y="184" width="3" height="1" fill="#fff"/>
<rect x="357" y="187" width="3" height="1" fill="#fff"/>
<rect x="357" y="198" width="3" height="1" fill="#fff"/>
<circle cx="351" cy="150.7" r="2" fill="#fff" shape-rendering="auto"/>
<polygon points="149,322 205,322 208,324 210,327 210,383 208,386 205,388 149,388 146,386 144,383 144,327 146,324" fill="#000"/>
<rect x="156" y="322" width="1" height="3" fill="#fff"/>
<rect x="158" y="322" width="1" height="3" fill="#fff"/>
<rect x="160" y="322" width="1" height="3" fill="#fff"/>
<rect x="163" y="322" width="1" height="3" fill="#fff"/>
<rect x="175" y="322" width="1" height="3" fill="#fff"/>
<rect x="178" y="322" width="1" height="3" fill="#fff"/>
<rect x="180" y="322" width="1" height="3" fill="#fff"/>
<rect x="193" y="322" width="1" height="3" fill="#fff"/>
<rect x="195" y="322" width="1" height="3" fill="#fff"/>
<rect x="198" y="322" width="1" height="3" fill="#fff"/>
<rect x="151" y="385" width="1" height="3" fill="#fff"/>
<rect x="153" y="385" width="1" height="3" fill="#fff"/>
<rect x="156" y="385" width="1" height="3" fill="#fff"/>
<rect x="170" y="385" width="1" height="3" fill="#fff"/>
<rect x="172" y="385" width="1" height="3" fill="#fff"/>
<rect x="174" y="385" width="1" height="3" fill="#fff"/>
<rect x="187" y="385" width="1" height="3" fill="#fff"/>
<rect x="190" y="385" width="1" height="3" fill="#fff"/>
<rect x="192" y="385" width="1" height="3" fill="#fff"/>
<rect x="144" y="328" width="3" height="1" fill="#fff"/>
<rect x="144" y="331" width="3" height="1" fill="#fff"/>
<rect x="144" y="333" width="3" height="1" fill="#fff"/>
<rect x="144" y="345" width="3" height="1" fill="#fff"/>
<rect x="144" y="347" width="3" height="1" fill="#fff"/>
<rect x="144" y="350" width="3" height="1" fill="#fff"/>
<rect x="144" y="358" width="3" height="1" fill="#fff"/>
<rect x="144" y="361" width="3" height="1" fill="#fff"/>
<rect x="144" y="364" width="3" height="1" fill="#fff"/>
<rect x="144" y="376" width="3" height="1" fill="#fff"/>
<rect x="144" y="378" width="3" height="1" fill="#fff"/>
<rect x="207" y="327" width="3" height="1" fill="#fff"/>
<rect x="207" y="340" width="3" height="1" fill="#fff"/>
<rect x="207" y="342" width="3" height="1" fill="#fff"/>
<rect x="207" y="345" width="3" height="1" fill="#fff"/>
<rect x="207" y="353" width="3" height="1" fill="#fff"/>
<rect x="207" y="356" width="3" height="1" fill="#fff"/>
<rect x="207" y="359" width="3" height="1" fill="#fff"/>
<rect x="207" y="370" width="3" height="1" fill="#fff"/>
<rect x="207" y="373" width="3" height="1" fill="#fff"/>
<rect x="207" y="376" width="3" height="1" fill="#fff"/>
<circle cx="153.5" cy="378.3" r="2" fill="#fff" shape-rendering="auto"/>
<polygon points="333,359 391,359 393,361 395,363 395,397 393,399 391,401 333,401 331,399 329,397 329,363 331,361" fill="#000"/>
<rect x="337" y="359" width="1" height="3" fill="#fff"/>
<rect x="340" y="359" width="1" height="3" fill="#fff"/>
<rect x="353" y="359" width="1" height="3" fill="#fff"/>
<rect x="357" y="359" width="1" height="3" fill="#fff"/>
<rect x="371" y="359" width="1" height="3" fill="#fff"/>
<rect x="374" y="359" width="1" height="3" fill="#fff"/>
<rect x="390" y="359" width="1" height="3" fill="#fff"/>
<rect x="340" y="398" width="1" height="3" fill="#fff"/>
<rect x="343" y="398" width="1" height="3" fill="#fff"/>
<rect x="346" y="398" width="1" height="3" fill="#fff"/>
<rect x="349" y="398" width="1" height="3" fill="#fff"/>
<rect x="363" y="398" width="1" height="3" fill="#fff"/>
<rect x="380" y="398" width="1" height="3" fill="#fff"/>
<rect x="383" y="398" width="1" height="3" fill="#fff"/>
<rect x="329" y="367" width="3" height="1" fill="#fff"/>
<rect x="329" y="378" width="3" height="1" fill="#fff"/>
<rect x="329" y="381" width="3" height="1" fill="#fff"/>
<rect x="329" y="384" width="3" height="1" fill="#fff"/>
<rect x="392" y="372" width="3" height="1" fill="#fff"/>
<rect x="392" y="375" width="3" height="1" fill="#fff"/>
<rect x="392" y="378" width="3" height="1" fill="#fff"/>
<rect x="392" y="390" width="3" height="1" fill="#fff"/>
<rect x="392" y="393" width="3" height="1" fill="#fff"/>
<rect x="392" y="396" width="3" height="1" fill="#fff"/>
<circle cx="338.3" cy="391.8" r="2" fill="#fff" shape-rendering="auto"/>
<polygon points="553,332 611,332 613,334 615,336 615,371 613,373 611,375 553,375 551,373 549,371 549,336 551,334" fill="#000"/>
<rect x="562" y="332" width="1" height="3" fill="#fff"/>
<rect x="565" y="332" width="1" height="3" fill="#fff"/>
<rect x="568" y="332" width="1" height="3" fill="#fff"/>
<rect x="580" y="332" width="1" height="3" fill="#fff"/>
<rect x="583" y="332" width="1" height="3" fill="#fff"/>
<rect x="586" y="332" width="1" height="3" fill="#fff"/>
<rect x="594" y="332" width="1" height="3" fill="#fff"/>
<rect x="597" y="332" width="1" height="3" fill="#fff"/>
<rect x="600" y="332" width="1" height="3" fill="#fff"/>
<rect x="603" y="332" width="1" height="3" fill="#fff"/>
<rect x="555" y="372" width="1" height="3" fill="#fff"/>
<rect x="558" y="372" width="1" height="3" fill="#fff"/>
<rect x="561" y="372" width="1" height="3" fill="#fff"/>
<rect x="571" y="372" width="1" height="3" fill="#fff"/>
<rect x="574" y="372" width="1" height="3" fill="#fff"/>
<rect x="586" y="372" width="1" height="3" fill="#fff"/>
<rect x="589" y="372" width="1" height="3" fill="#fff"/>
<rect x="592" y="372" width="1" height="3" fill="#fff"/>
<rect x="605" y="372" width="1" height="3" fill="#fff"/>
<rect x="608" y="372" width="1" height="3" fill="#fff"/>
<rect x="549" y="350" width="3" height="1" fill="#fff"/>
<rect x="549" y="352" width="3" height="1" fill="#fff"/>
<rect x="549" y="363" width="3" height="1" fill="#fff"/>
<rect x="549" y="366" width="3" height="1" fill="#fff"/>
<rect x="612" y="340" width="3" height="1" fill="#fff"/>
<rect x="612" y="343" width="3" height="1" fill="#fff"/>
<rect x="612" y="356" width="3" height="1" fill="#fff"/>
<rect x="612" y="358" width="3" height="1" fill="#fff"/>
<rect x="612" y="361" width="3" height="1" fill="#fff"/>
<rect x="612" y="367" width="3" height="1" fill="#fff"/>
<circle cx="604.5" cy="341.5" r="2" fill="#fff" shape-rendering="auto"/>
<polygon points="594,126 638,126 638,128 641,128 641,172 638,172 638,175 595,175 595,173 591,173 591,130 593,130 593,128 594,128" fill="#000"/>
<rect x="367" y="182" width="7" height="19" fill="#000"/>
<rect x="369" y="184" width="3" height="3" fill="#fff"/>
<rect x="368" y="189" width="5" height="1" fill="#fff"/>
<rect x="368" y="194" width="5" height="1" fill="#fff"/>
<rect x="431" y="223" width="68" height="20" fill="#000"/>
<rect x="432" y="224" width="66" height="18" fill="#fff"/>
<rect x="436" y="227" width="5" height="11" fill="#000"/>
<rect x="442" y="227" width="5" height="11" fill="#000"/>
<rect x="449" y="227" width="5" height="11" fill="#000"/>
<rect x="455" y="227" width="5" height="11" fill="#000"/>
<rect x="461" y="227" width="5" height="11" fill="#000"/>
<rect x="468" y="227" width="5" height="11" fill="#000"/>
<rect x="474" y="227" width="5" height="11" fill="#000"/>
<rect x="480" y="227" width="5" height="11" fill="#000"/>
<rect x="487" y="227" width="6" height="11" fill="#000"/>
<rect x="488" y="228" width="4" height="9" fill="#fff"/>
<circle cx="495.8" cy="226.3" r="1.8" fill="#fff" stroke="#000" stroke-width="1" shape-rendering="auto"/>
<rect x="563" y="223" width="46" height="20" fill="#000"/>
<rect x="564" y="224" width="44" height="18" fill="#fff"/>
<rect x="567" y="227" width="6" height="11" fill="#000"/>
<rect x="575" y="227" width="6" height="11" fill="#000"/>
<rect x="582" y="227" width="6" height="11" fill="#000"/>
<rect x="590" y="227" width="6" height="11" fill="#000"/>
<rect x="597" y="227" width="6" height="11" fill="#000"/>
<rect x="598" y="228" width="4" height="9" fill="#fff"/>
<circle cx="605.3" cy="226.3" r="1.8" fill="#fff" stroke="#000" stroke-width="1" shape-rendering="auto"/>
<rect x="455" y="314" width="13" height="119" fill="#000"/>
<rect x="456" y="315" width="11" height="117" fill="#fff"/>
<rect x="456" y="315" width="5" height="117" fill="#000"/>
<rect x="462" y="315" width="4" height="117" fill="#000"/>
<rect x="456" y="319.95" width="11" height="1.7" fill="#fff" shape-rendering="auto"/>
<rect x="456" y="325.8" width="11" height="1.7" fill="#fff" shape-rendering="auto"/>
<rect x="456" y="331.65" width="11" height="1.7" fill="#fff" shape-rendering="auto"/>
<rect x="456" y="337.5" width="11" height="1.7" fill="#fff" shape-rendering="auto"/>
<rect x="456" y="343.35" width="11" height="1.7" fill="#fff" shape-rendering="auto"/>
<rect x="456" y="349.2" width="11" height="1.7" fill="#fff" shape-rendering="auto"/>
<rect x="456" y="355.05" width="11" height="1.7" fill="#fff" shape-rendering="auto"/>
<rect x="456" y="360.9" width="11" height="1.7" fill="#fff" shape-rendering="auto"/>
<rect x="456" y="366.75" width="11" height="1.7" fill="#fff" shape-rendering="auto"/>
<rect x="456" y="372.6" width="11" height="1.7" fill="#fff" shape-rendering="auto"/>
<rect x="456" y="378.45" width="11" height="1.7" fill="#fff" shape-rendering="auto"/>
<rect x="456" y="384.3" width="11" height="1.7" fill="#fff" shape-rendering="auto"/>
<rect x="456" y="390.15" width="11" height="1.7" fill="#fff" shape-rendering="auto"/>
<rect x="456" y="396" width="11" height="1.7" fill="#fff" shape-rendering="auto"/>
<rect x="456" y="401.85" width="11" height="1.7" fill="#fff" shape-rendering="auto"/>
<rect x="456" y="407.7" width="11" height="1.7" fill="#fff" shape-rendering="auto"/>
<rect x="456" y="413.55" width="11" height="1.7" fill="#fff" shape-rendering="auto"/>
<rect x="456" y="419.4" width="11" height="1.7" fill="#fff" shape-rendering="auto"/>
<rect x="456" y="425.25" width="11" height="1.7" fill="#fff" shape-rendering="auto"/>
<rect x="457" y="316" width="3" height="3" fill="#fff"/>
<rect x="484" y="306" width="13" height="102" fill="#000"/>
<rect x="485" y="307" width="11" height="100" fill="#fff"/>
<rect x="485" y="308" width="5" height="99" fill="#000"/>
<rect x="491" y="308" width="4" height="99" fill="#000"/>
<rect x="485" y="312.924" width="11" height="1.7" fill="#fff" shape-rendering="auto"/>
<rect x="485" y="318.747" width="11" height="1.7" fill="#fff" shape-rendering="auto"/>
<rect x="485" y="324.571" width="11" height="1.7" fill="#fff" shape-rendering="auto"/>
<rect x="485" y="330.394" width="11" height="1.7" fill="#fff" shape-rendering="auto"/>
<rect x="485" y="336.218" width="11" height="1.7" fill="#fff" shape-rendering="auto"/>
<rect x="485" y="342.041" width="11" height="1.7" fill="#fff" shape-rendering="auto"/>
<rect x="485" y="347.865" width="11" height="1.7" fill="#fff" shape-rendering="auto"/>
<rect x="485" y="353.688" width="11" height="1.7" fill="#fff" shape-rendering="auto"/>
<rect x="485" y="359.512" width="11" height="1.7" fill="#fff" shape-rendering="auto"/>
<rect x="485" y="365.335" width="11" height="1.7" fill="#fff" shape-rendering="auto"/>
<rect x="485" y="371.159" width="11" height="1.7" fill="#fff" shape-rendering="auto"/>
<rect x="485" y="376.982" width="11" height="1.7" fill="#fff" shape-rendering="auto"/>
<rect x="485" y="382.806" width="11" height="1.7" fill="#fff" shape-rendering="auto"/>
<rect x="485" y="388.629" width="11" height="1.7" fill="#fff" shape-rendering="auto"/>
<rect x="485" y="394.453" width="11" height="1.7" fill="#fff" shape-rendering="auto"/>
<rect x="485" y="400.276" width="11" height="1.7" fill="#fff" shape-rendering="auto"/>
<rect x="486" y="309" width="3" height="2" fill="#fff"/>
<rect x="620" y="398" width="13" height="7" fill="#000"/>
<rect x="626" y="399" width="1" height="3" fill="#fff"/>
<rect x="621" y="402" width="11" height="1" fill="#fff"/>
<rect x="353" y="440" width="14" height="7" fill="#000"/>
<rect x="354" y="441" width="1" height="5" fill="#fff"/>
<rect x="360" y="441" width="1" height="5" fill="#fff"/>
<rect x="365" y="441" width="1" height="5" fill="#fff"/>
<rect x="745" y="497" width="26" height="7" fill="#000"/>
<rect x="746" y="498" width="24" height="1" fill="#fff"/>
<rect x="746" y="498" width="1" height="5" fill="#fff"/>
<rect x="752" y="498" width="1" height="5" fill="#fff"/>
<rect x="758" y="498" width="1" height="5" fill="#fff"/>
<rect x="763" y="498" width="1" height="5" fill="#fff"/>
<rect x="769" y="498" width="1" height="5" fill="#fff"/>
<rect x="766" y="500" width="2" height="2" fill="#fff"/>
<rect x="118" y="426" width="1" height="6" fill="#000"/>
<rect x="118" y="475" width="1" height="6" fill="#000"/>
<rect x="109" y="435" width="6" height="1" fill="#000"/>
<rect x="158" y="435" width="6" height="1" fill="#000"/>
<rect x="120" y="426" width="1" height="6" fill="#000"/>
<rect x="120" y="475" width="1" height="6" fill="#000"/>
<rect x="109" y="437" width="6" height="1" fill="#000"/>
<rect x="158" y="437" width="6" height="1" fill="#000"/>
<rect x="122" y="426" width="1" height="6" fill="#000"/>
<rect x="122" y="475" width="1" height="6" fill="#000"/>
<rect x="109" y="439" width="6" height="1" fill="#000"/>
<rect x="158" y="439" width="6" height="1" fill="#000"/>
<rect x="124" y="426" width="1" height="6" fill="#000"/>
<rect x="124" y="475" width="1" height="6" fill="#000"/>
<rect x="109" y="441" width="6" height="1" fill="#000"/>
<rect x="158" y="441" width="6" height="1" fill="#000"/>
<rect x="126" y="426" width="1" height="6" fill="#000"/>
<rect x="126" y="475" width="1" height="6" fill="#000"/>
<rect x="109" y="443" width="6" height="1" fill="#000"/>
<rect x="158" y="443" width="6" height="1" fill="#000"/>
<rect x="128" y="426" width="1" height="6" fill="#000"/>
<rect x="128" y="475" width="1" height="6" fill="#000"/>
<rect x="109" y="445" width="6" height="1" fill="#000"/>
<rect x="158" y="445" width="6" height="1" fill="#000"/>
<rect x="130" y="426" width="1" height="6" fill="#000"/>
<rect x="130" y="475" width="1" height="6" fill="#000"/>
<rect x="109" y="447" width="6" height="1" fill="#000"/>
<rect x="158" y="447" width="6" height="1" fill="#000"/>
<rect x="132" y="426" width="1" height="6" fill="#000"/>
<rect x="132" y="475" width="1" height="6" fill="#000"/>
<rect x="109" y="449" width="6" height="1" fill="#000"/>
<rect x="158" y="449" width="6" height="1" fill="#000"/>
<rect x="134" y="426" width="1" height="6" fill="#000"/>
<rect x="134" y="475" width="1" height="6" fill="#000"/>
<rect x="109" y="451" width="6" height="1" fill="#000"/>
<rect x="158" y="451" width="6" height="1" fill="#000"/>
<rect x="136" y="426" width="1" height="6" fill="#000"/>
<rect x="136" y="475" width="1" height="6" fill="#000"/>
<rect x="109" y="453" width="6" height="1" fill="#000"/>
<rect x="158" y="453" width="6" height="1" fill="#000"/>
<rect x="138" y="426" width="1" height="6" fill="#000"/>
<rect x="138" y="475" width="1" height="6" fill="#000"/>
<rect x="109" y="455" width="6" height="1" fill="#000"/>
<rect x="158" y="455" width="6" height="1" fill="#000"/>
<rect x="140" y="426" width="1" height="6" fill="#000"/>
<rect x="140" y="475" width="1" height="6" fill="#000"/>
<rect x="109" y="457" width="6" height="1" fill="#000"/>
<rect x="158" y="457" width="6" height="1" fill="#000"/>
<rect x="142" y="426" width="1" height="6" fill="#000"/>
<rect x="142" y="475" width="1" height="6" fill="#000"/>
<rect x="109" y="459" width="6" height="1" fill="#000"/>
<rect x="158" y="459" width="6" height="1" fill="#000"/>
<rect x="144" y="426" width="1" height="6" fill="#000"/>
<rect x="144" y="475" width="1" height="6" fill="#000"/>
<rect x="109" y="461" width="6" height="1" fill="#000"/>
<rect x="158" y="461" width="6" height="1" fill="#000"/>
<rect x="146" y="426" width="1" height="6" fill="#000"/>
<rect x="146" y="475" width="1" height="6" fill="#000"/>
<rect x="109" y="463" width="6" height="1" fill="#000"/>
<rect x="158" y="463" width="6" height="1" fill="#000"/>
<rect x="148" y="426" width="1" height="6" fill="#000"/>
<rect x="148" y="475" width="1" height="6" fill="#000"/>
<rect x="109" y="465" width="6" height="1" fill="#000"/>
<rect x="158" y="465" width="6" height="1" fill="#000"/>
<rect x="150" y="426" width="1" height="6" fill="#000"/>
<rect x="150" y="475" width="1" height="6" fill="#000"/>
<rect x="109" y="467" width="6" height="1" fill="#000"/>
<rect x="158" y="467" width="6" height="1" fill="#000"/>
<rect x="152" y="426" width="1" height="6" fill="#000"/>
<rect x="152" y="475" width="1" height="6" fill="#000"/>
<rect x="109" y="469" width="6" height="1" fill="#000"/>
<rect x="158" y="469" width="6" height="1" fill="#000"/>
<rect x="154" y="426" width="1" height="6" fill="#000"/>
<rect x="154" y="475" width="1" height="6" fill="#000"/>
<rect x="109" y="471" width="6" height="1" fill="#000"/>
<rect x="158" y="471" width="6" height="1" fill="#000"/>
<rect x="114" y="431" width="45" height="45" fill="#000"/>
<line x1="115" y1="432" x2="111.5" y2="428.5" stroke="#000" stroke-width="4.5" stroke-linecap="round" shape-rendering="auto"/>
<line x1="158" y1="432" x2="161.5" y2="428.5" stroke="#000" stroke-width="4.5" stroke-linecap="round" shape-rendering="auto"/>
<line x1="115" y1="475" x2="111.5" y2="478.5" stroke="#000" stroke-width="4.5" stroke-linecap="round" shape-rendering="auto"/>
<line x1="158" y1="475" x2="161.5" y2="478.5" stroke="#000" stroke-width="4.5" stroke-linecap="round" shape-rendering="auto"/>
<rect x="123" y="447" width="28" height="14" fill="#fff"/>
<text transform="translate(138.4,458.5) scale(0.76,1)" font-size="13" text-anchor="middle" letter-spacing="3.68" fill="#000" stroke="#000" stroke-width="0.3">CPU</text>
<circle cx="120.3" cy="469.5" r="2.4" fill="#fff"/>
<polygon points="763,446 787,446 787,442 790,442 790,440 794,440 794,490 790,490 790,486 787,486 787,483 763,483 763,477 760,477 760,453 763,453" fill="#000"/>
<rect x="756" y="455" width="5" height="9" fill="#000"/>
<rect x="757" y="456" width="3" height="7" fill="#fff"/>
<rect x="756" y="466" width="5" height="9" fill="#000"/>
<rect x="757" y="467" width="3" height="7" fill="#fff"/>
</svg>
</body></html>
